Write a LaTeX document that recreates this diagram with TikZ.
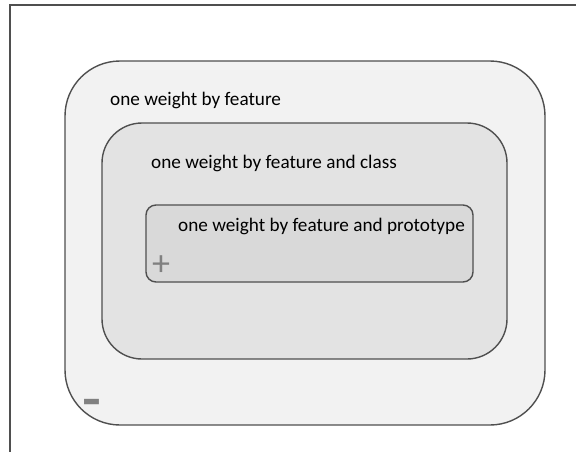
\documentclass[tikz,border=0pt]{standalone}
\usepackage{fontspec}
\setmainfont{Carlito}
\usepackage{tikz}

\definecolor{edgegray}{HTML}{4F4F4F}
\definecolor{outerfill}{HTML}{F2F2F2}
\definecolor{middlefill}{HTML}{E3E3E3}
\definecolor{innerfill}{HTML}{D9D9D9}
\definecolor{signgray}{HTML}{808080}

\begin{document}
\begin{tikzpicture}[x=1pt,y=-1pt,
    region/.style={draw=edgegray, line width=1.4pt, inner sep=0pt},
    caption/.style={anchor=west, inner sep=0pt, font=\fontsize{19.2}{22}\selectfont},
    sign/.style={text=signgray, inner sep=0pt}]
            \useasboundingbox (0,0) rectangle (576,452);
            \draw [edgegray, line width=1.2pt] (10,452) -- (10,5) -- (576,5);
            \node [region, fill=outerfill, rounded corners=55pt, minimum width=480pt, minimum height=364pt] (outer) at (305,243) {};
            \node [region, fill=middlefill, rounded corners=40pt, minimum width=405pt, minimum height=236pt] (middle) at (304.5,241) {};
            \node [region, fill=innerfill, rounded corners=10pt, minimum width=327pt, minimum height=77pt] (inner) at (309.5,243.5) {};
            \node [caption] (feature) at (110,100) {one weight by feature};
            \node [caption] (class) at (151,163) {one weight by feature and class};
            \node [caption] (prototype) at (178,226) {one weight by feature and prototype};
            \node [sign, font=\fontsize{36}{36}\selectfont] (plus) at (161,266) {+};
            \node [sign, font=\fontsize{28}{28}\selectfont\bfseries] (minus) at (92,409) {\scalebox{1.5}[2.2]{\char"2013}};
\end{tikzpicture}
\end{document}
